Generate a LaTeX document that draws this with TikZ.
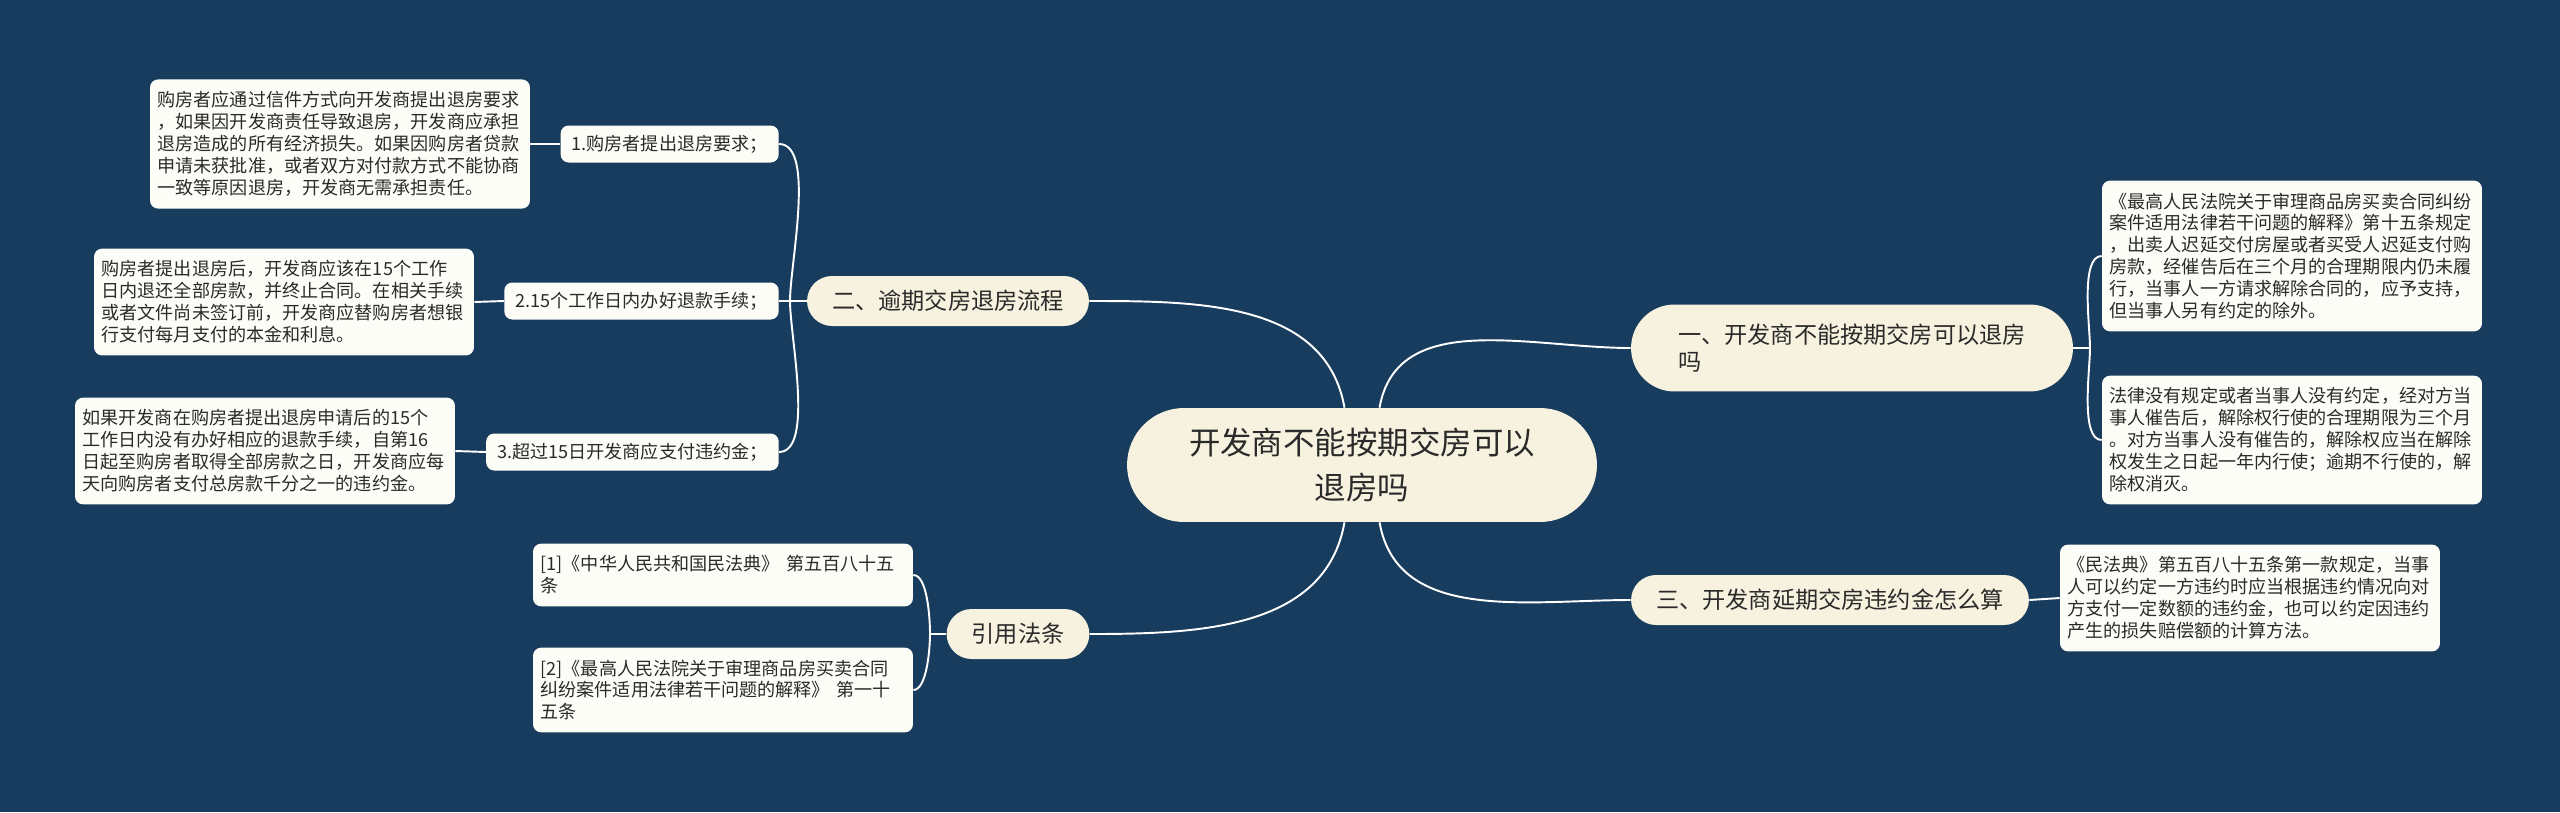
\documentclass[tikz,border=0pt]{standalone}
\usepackage{fontspec}
\setmainfont{Noto Sans CJK SC}
\definecolor{MapNavy}{HTML}{183C5D}
\definecolor{MapCream}{HTML}{F7F2DF}
\definecolor{MapPaper}{HTML}{FDFDF8}
\definecolor{MapInk}{HTML}{2A2A2A}
\usetikzlibrary{positioning}

\begin{document}
\begin{tikzpicture}[x=0.02cm, y=0.02cm,
   link/.style={white, line width=1.1pt},
   rootbox/.style={fill=MapCream, text=MapInk, rounded corners=1.14cm,
      minimum width=9.4cm, minimum height=2.28cm, align=center,
      inner sep=0pt, font=\fontsize{17.9}{26}\selectfont},
   topic/.style={fill=MapCream, text=MapInk, rounded corners=0.5cm,
      minimum height=1cm, inner xsep=0.5cm, inner ysep=0pt,
      font=\fontsize{13.2}{16}\selectfont},
   leaf/.style={fill=MapPaper, text=MapInk, rounded corners=0.16cm,
      minimum height=0.74cm, inner xsep=0.22cm, inner ysep=0pt,
      font=\fontsize{10.3}{12.5}\selectfont},
   note/.style={fill=MapPaper, text=MapInk, rounded corners=0.16cm,
      text width=7.3cm, align=left, inner xsep=0.15cm, inner ysep=0.24cm,
      font=\fontsize{10.3}{12.5}\selectfont}]
            % Canvas
            \useasboundingbox (0,0) rectangle (2560,-812);
            \fill[MapNavy] (0,0) rectangle (2560,-812);
            % Centre
            \node[rootbox] (root) at (1362,-465) {开发商不能按期交房可以\\退房吗};
            % Topics
            \node[topic] (t2) at (948,-301) {二、逾期交房退房流程};
            \node[topic] (t4) at (1018,-634) {引用法条};
            \node[topic, align=left, minimum width=8.84cm, minimum height=1.74cm,
               rounded corners=0.87cm, font=\fontsize{13.2}{15.9}\selectfont]
               (t1) at (1852,-348) {一、开发商不能按期交房可以退房\\吗};
            \node[topic] (t3) at (1830,-600) {三、开发商延期交房违约金怎么算};
            % Steps of topic two
            \node[leaf, anchor=east] (l1) at (779,-144) {1.购房者提出退房要求；};
            \node[leaf, anchor=east] (l2) at (779,-301) {2.15个工作日内办好退款手续；};
            \node[leaf, anchor=east] (l3) at (779,-452) {3.超过15日开发商应支付违约金；};
            % Notes on the left
            \node[note] (d1) at (340,-144) {购房者应通过信件方式向开发商提出退房要求\\，如果因开发商责任导致退房，开发商应承担\\退房造成的所有经济损失。如果因购房者贷款\\申请未获批准，或者双方对付款方式不能协商\\一致等原因退房，开发商无需承担责任。};
            \node[note] (d2) at (284,-302) {购房者提出退房后，开发商应该在15个工作\\日内退还全部房款，并终止合同。在相关手续\\或者文件尚未签订前，开发商应替购房者想银\\行支付每月支付的本金和利息。};
            \node[note] (d3) at (265,-451) {如果开发商在购房者提出退房申请后的15个\\工作日内没有办好相应的退款手续，自第16\\日起至购房者取得全部房款之日，开发商应每\\天向购房者支付总房款千分之一的违约金。};
            % Citations
            \node[note] (c1) at (723,-575) {[1]《中华人民共和国民法典》 第五百八十五\\条};
            \node[note] (c2) at (723,-690) {[2]《最高人民法院关于审理商品房买卖合同\\纠纷案件适用法律若干问题的解释》 第一十\\五条};
            % Notes on the right
            \node[note] (r1) at (2292,-256) {《最高人民法院关于审理商品房买卖合同纠纷\\案件适用法律若干问题的解释》第十五条规定\\，出卖人迟延交付房屋或者买受人迟延支付购\\房款，经催告后在三个月的合理期限内仍未履\\行，当事人一方请求解除合同的，应予支持，\\但当事人另有约定的除外。};
            \node[note] (r2) at (2292,-440) {法律没有规定或者当事人没有约定，经对方当\\事人催告后，解除权行使的合理期限为三个月\\。对方当事人没有催告的，解除权应当在解除\\权发生之日起一年内行使；逾期不行使的，解\\除权消灭。};
            \node[note] (r3) at (2250,-598) {《民法典》第五百八十五条第一款规定，当事\\人可以约定一方违约时应当根据违约情况向对\\方支付一定数额的违约金，也可以约定因违约\\产生的损失赔偿额的计算方法。};
            % Centre to topics
            \draw[link] (root.107) to[out=100, in=0] (t2.east);
            \draw[link] (root.73) to[out=80, in=180] (t1.west);
            \draw[link] (root.287) to[out=-80, in=180] (t3.west);
            \draw[link] (root.253) to[out=-100, in=0] (t4.east);
            % Brackets
            \coordinate (j2) at (790,-301);
            \coordinate (j4) at (930,-634);
            \coordinate (j1) at (2090,-348);
            \draw[link] (t2.west) -- (l2.east);
            \draw[link] (j2) to[out=90, in=0, looseness=0.6] (l1.east);
            \draw[link] (j2) to[out=-90, in=0, looseness=0.6] (l3.east);
            \draw[link] (t4.west) -- (j4);
            \draw[link] (j4) to[out=90, in=0, looseness=0.6] (c1.east);
            \draw[link] (j4) to[out=-90, in=0, looseness=0.6] (c2.east);
            \draw[link] (t1.east) -- (j1);
            \draw[link] (j1) to[out=90, in=180, looseness=0.6] (r1.west);
            \draw[link] (j1) to[out=-90, in=180, looseness=0.6] (r2.west);
            % Steps to notes
            \draw[link] (l1.west) -- (d1.east);
            \draw[link] (l2.west) -- (d2.east);
            \draw[link] (l3.west) -- (d3.east);
            \draw[link] (t3.east) -- (r3.west);
\end{tikzpicture}
\end{document}
